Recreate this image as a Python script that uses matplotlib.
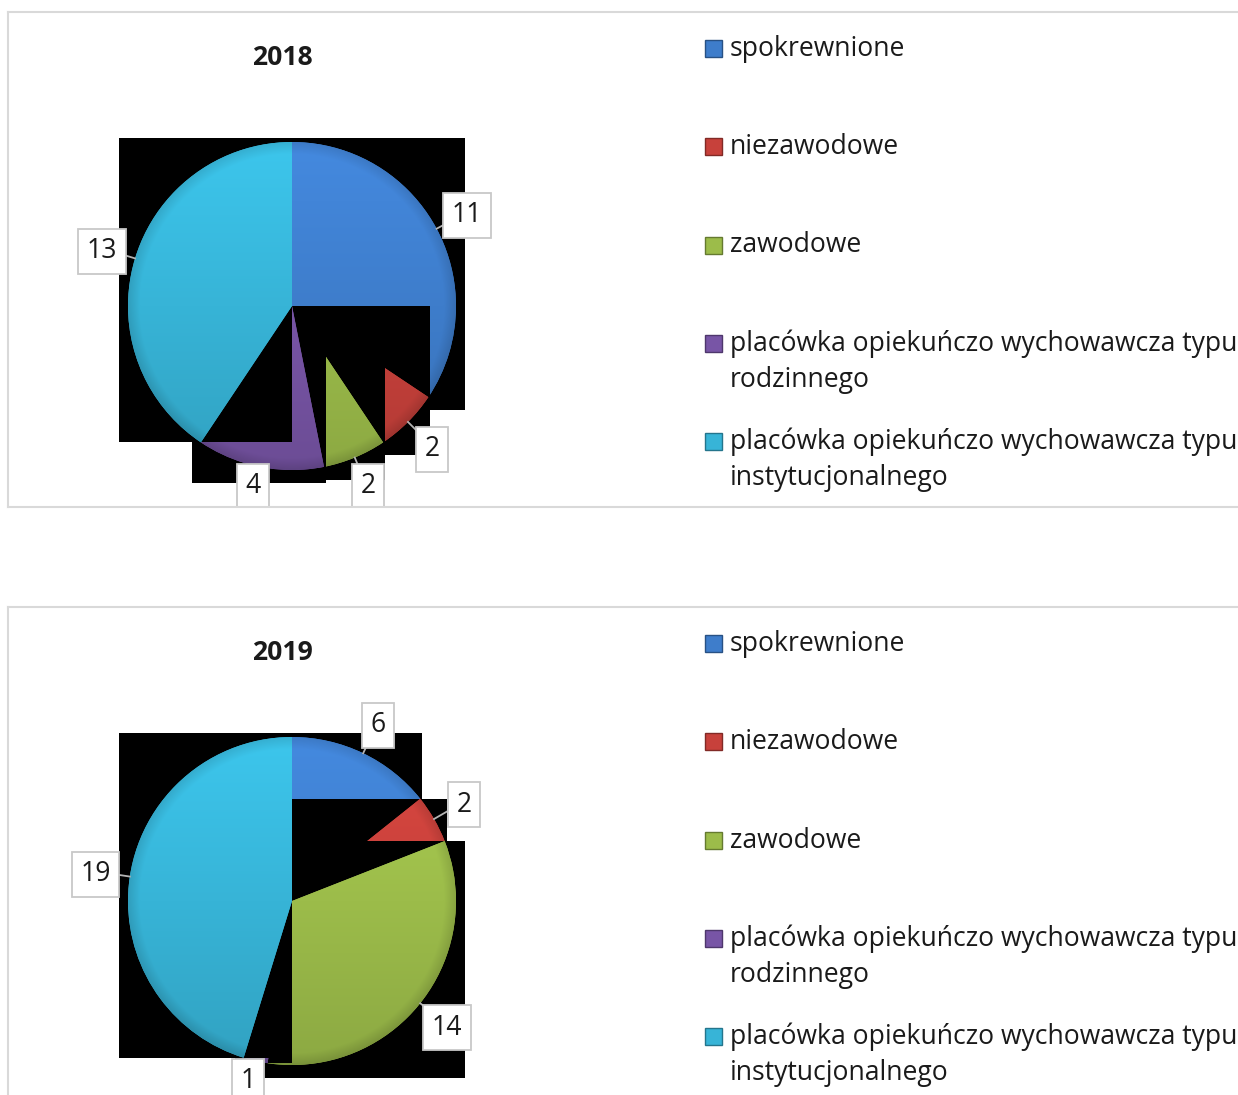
import numpy as np
import matplotlib.pyplot as plt
from matplotlib.colors import to_rgb
from matplotlib.patches import Rectangle, Wedge

plt.rcParams["font.family"] = ["Open Sans", "DejaVu Sans"]

years = ["2018", "2019"]
categories = [
    "spokrewnione",
    "niezawodowe",
    "zawodowe",
    "placówka opiekuńczo wychowawcza typu\nrodzinnego",
    "placówka opiekuńczo wychowawcza typu\ninstytucjonalnego",
]
values_2018 = [11, 2, 2, 4, 13]
values_2019 = [6, 2, 14, 1, 19]
colors = ["#3e7dcb", "#c7413b", "#9cbc4a", "#7855a6", "#37b4d7"]

# layout in pixels (figure is 1238 x 1095 at dpi 100)
FIG_W, FIG_H = 1238, 1095
PANEL_W, PANEL_H = 1232, 495
panel_tops = [12, 607]
cx, cy, R = 284, 495 - 294, 164
text_size = 19.1


def shaded(color, n=300):
    yy, xx = np.mgrid[1:-1:n * 1j, -1:1:n * 1j]
    r = np.hypot(xx, yy)
    base = np.array(to_rgb(color))
    shade = 1.10 - 0.20 * (1 - yy) / 2
    rim = np.clip((r - 0.93) / 0.07, 0, 1)
    shade = shade - 0.12 * rim
    return np.clip(base[None, None, :] * shade[..., None], 0, 1)


def quadrant_parts(t1, t2):
    # split a wedge at the axis directions, clockwise order (old renderer did this)
    cuts = [a for a in range(-360, 721, 90) if t1 < a < t2]
    edges = [t2] + sorted(cuts, reverse=True) + [t1]
    return [(edges[k + 1], edges[k]) for k in range(len(edges) - 1)]


def draw_panel(ax, year, values):
    wedges, _ = ax.pie(values, radius=R, center=(cx, cy), startangle=90,
                       counterclock=False, colors=colors, frame=True,
                       wedgeprops=dict(linewidth=0))
    z = 10
    for i, w in enumerate(wedges):
        w.set_visible(False)
        for a, b in quadrant_parts(w.theta1, w.theta2):
            part = Wedge((cx, cy), R, a, b, facecolor=colors[i], lw=0)
            x0, y0, x1, y1 = part.get_path().get_extents().extents
            pl = 9 if x0 < cx - 1 else 0
            pr = 9 if x1 > cx + R - 1 else (2 if x1 > cx + 1 else 0)
            pt = 4 if y1 > cy + R - 1 else 0
            pb = 13 if y0 < cy - 1 and (y0 < cy - R + 1 or x0 > cx - 1) else 0
            ax.add_patch(Rectangle((x0 - pl, y0 - pb), x1 - x0 + pl + pr,
                                   y1 - y0 + pb + pt, facecolor="black",
                                   edgecolor="none", zorder=z))
            part.set_zorder(z + 1)
            ax.add_patch(part)
            ax.imshow(shaded(colors[i]), extent=(cx - R, cx + R, cy - R, cy + R),
                      clip_path=part, zorder=z + 2, interpolation="bilinear")
            z += 3

        # data label, kept inside the chart area like the original
        mid = np.deg2rad((w.theta1 + w.theta2) / 2)
        ux, uy = np.cos(mid), np.sin(mid)
        lx, ly = cx + 1.21 * R * ux, max(cy + 1.21 * R * uy - 3, 21)
        ax.plot([cx + R * ux, cx + 1.1 * R * ux], [cy + R * uy, cy + 1.1 * R * uy],
                color="#b4b4b4", lw=1.3, zorder=90)
        ax.text(lx, ly, str(values[i]), ha="center", va="center",
                fontsize=text_size, color="#1a1a1a", zorder=91, clip_on=True,
                bbox=dict(boxstyle="square,pad=0.32", fc="white", ec="#c8c8c8", lw=1.3))

    ax.text(274, PANEL_H - 53, year, ha="center", va="baseline",
            fontsize=text_size, fontweight="bold", color="#1a1a1a")

    # legend
    for i, label in enumerate(categories):
        yc = PANEL_H - 36.5 - 98.25 * i
        ax.add_patch(Rectangle((697, yc - 8.5), 17, 17, facecolor=colors[i],
                               edgecolor=np.array(to_rgb(colors[i])) * 0.65,
                               lw=1, zorder=20))
        for k, line in enumerate(label.split("\n")):
            ax.text(722, yc - 7.5 - 36 * k, line, ha="left", va="baseline",
                    fontsize=text_size, color="#1a1a1a", zorder=20)

    ax.set_aspect("auto")
    ax.set_xlim(0, PANEL_W)
    ax.set_ylim(0, PANEL_H)
    ax.set_xticks([])
    ax.set_yticks([])
    ax.set_frame_on(True)
    for s in ax.spines.values():
        s.set_color("#d9d9d9")
        s.set_linewidth(1.5)
        s.set_zorder(100)


fig = plt.figure(figsize=(FIG_W / 100, FIG_H / 100), dpi=100)
for year, vals, top in zip(years, [values_2018, values_2019], panel_tops):
    ax = fig.add_axes([8 / FIG_W, 1 - (top + PANEL_H) / FIG_H,
                       PANEL_W / FIG_W, PANEL_H / FIG_H])
    draw_panel(ax, year, vals)

fig.savefig("out.png", dpi=100)
